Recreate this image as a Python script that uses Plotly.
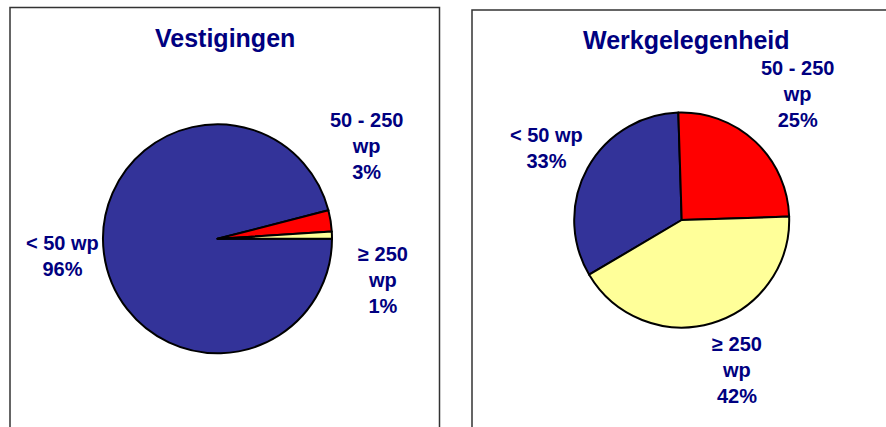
import plotly.graph_objects as go

W, H = 886, 427

# Data
categories = ["< 50 wp", "50 - 250 wp", "≥ 250 wp"]
label_lines = ["< 50 wp", "50 - 250<br>wp", "≥ 250<br>wp"]
vestigingen_pct = [96, 3, 1]
werkgelegenheid_pct = [33, 25, 42]
titles = ["Vestigingen", "Werkgelegenheid"]

colors = ["#333399", "#FF0000", "#FFFF99"]
navy = "#000080"
font_family = "Liberation Sans, Arial, sans-serif"


def px_x(x):
    return x / W


def px_y(y):
    return 1 - y / H


def domain(cx, cy, r):
    return dict(x=[px_x(cx - r), px_x(cx + r)], y=[px_y(cy + r), px_y(cy - r)])


fig = go.Figure()

fig.add_trace(go.Pie(
    labels=categories, values=vestigingen_pct, sort=False,
    direction="clockwise", rotation=90,
    marker=dict(colors=colors, line=dict(color="black", width=2)),
    textinfo="none", hoverinfo="label+percent", showlegend=False,
    domain=domain(217.5, 238.8, 114.5),
))

fig.add_trace(go.Pie(
    labels=categories, values=werkgelegenheid_pct, sort=False,
    direction="clockwise", rotation=-120.6,
    marker=dict(colors=colors, line=dict(color="black", width=2)),
    textinfo="none", hoverinfo="label+percent", showlegend=False,
    domain=domain(681.7, 220, 107.5),
))

# label positions (pixels) per panel, per category
pos_left = [(62, 256), (366, 146), (383, 280)]
pos_right = [(546, 148), (797, 94), (737, 370)]

annotations = []
for vals, positions in ((vestigingen_pct, pos_left), (werkgelegenheid_pct, pos_right)):
    for lab, v, (x, y) in zip(label_lines, vals, positions):
        annotations.append(dict(
            text=f"{lab}<br>{v}%", x=px_x(x), y=px_y(y), xref="paper", yref="paper",
            xanchor="center", yanchor="middle", showarrow=False, align="center",
            font=dict(family=font_family, size=20, color=navy, weight="bold"),
        ))

for t, (x, y) in zip(titles, [(225, 38), (686, 40)]):
    annotations.append(dict(
        text=t, x=px_x(x), y=px_y(y), xref="paper", yref="paper",
        xanchor="center", yanchor="middle", showarrow=False,
        font=dict(family=font_family, size=25, color=navy, weight="bold"),
    ))

shapes = [
    dict(type="rect", xref="paper", yref="paper", x0=px_x(10), x1=px_x(439.5),
         y0=px_y(440), y1=px_y(7.5), line=dict(color="#333333", width=1.5)),
    dict(type="rect", xref="paper", yref="paper", x0=px_x(472), x1=px_x(900),
         y0=px_y(440), y1=px_y(10), line=dict(color="#333333", width=1.5)),
]

fig.update_layout(
    width=W, height=H, margin=dict(l=0, r=0, t=0, b=0),
    paper_bgcolor="white", plot_bgcolor="white",
    annotations=annotations, shapes=shapes,
)

fig.write_html(
    "out.html",
    config={"displayModeBar": False},
    post_script="document.body.style.margin='0';document.body.style.overflow='hidden';",
)
